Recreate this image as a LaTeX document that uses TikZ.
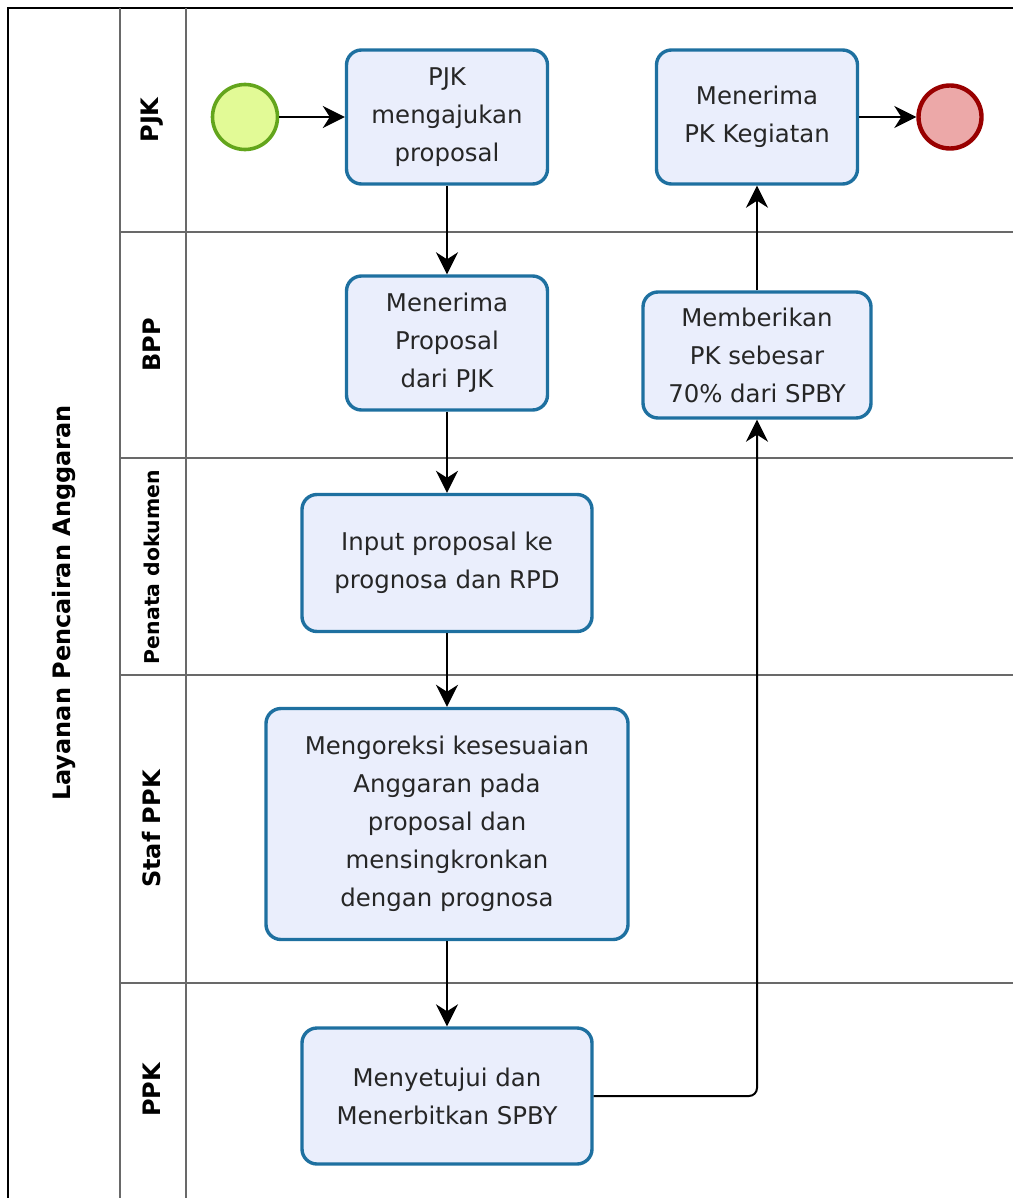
\documentclass[tikz,border=0pt]{standalone}
\usepackage{fontspec}
\setmainfont{DejaVu Sans}
\usepackage{tikz}
\usetikzlibrary{positioning,arrows.meta}

\definecolor{taskfill}{RGB}{234,238,252}
\definecolor{taskline}{RGB}{30,112,160}
\definecolor{startfill}{RGB}{226,250,150}
\definecolor{startline}{RGB}{99,165,28}
\definecolor{endfill}{RGB}{236,168,168}
\definecolor{endline}{RGB}{153,0,0}
\definecolor{laneline}{RGB}{105,105,105}

\begin{document}
\begin{tikzpicture}[
  x=0.5pt, y=-0.5pt,
  task/.style={rectangle, draw=taskline, line width=1.7pt, fill=taskfill, rounded corners=7.5pt, align=center, text=black!85, font=\fontsize{12.2}{19}\selectfont, inner sep=0pt},
  startev/.style={circle, draw=startline, line width=1.8pt, fill=startfill, minimum size=32.5pt, inner sep=0pt},
  endev/.style={circle, draw=endline, line width=2.2pt, fill=endfill, minimum size=31.5pt, inner sep=0pt},
  lanelbl/.style={rotate=90, font=\bfseries\fontsize{12}{14}\selectfont},
  lane/.style={draw=laneline, line width=1pt},
  flow/.style={-{Stealth[length=11pt,width=11pt,inset=3.5pt]}, line width=1pt}
]
\useasboundingbox (0,0) rectangle (1013,1198);

% pool and lanes
\draw[line width=1pt] (8,1198) -- (8,8) -- (1013,8);
\draw[lane] (120,8) -- (120,1198);
\draw[lane] (186,8) -- (186,1198);
\foreach \ly in {232,458,675,983}
  \draw[lane] (120,\ly) -- (1013,\ly);

\node[lanelbl] (pool) at (64,603) {Layanan Pencairan Anggaran};
\node[lanelbl] (lpjk) at (152,120) {PJK};
\node[lanelbl] (lbpp) at (152,345) {BPP};
\node[lanelbl, font=\bfseries\fontsize{10.2}{12}\selectfont] (lpenata) at (152,567) {Penata dokumen};
\node[lanelbl] (lstaf) at (152,829) {Staf PPK};
\node[lanelbl] (lppk) at (152,1090) {PPK};

% events and tasks
\node[startev] (start) at (245,117) {};
\node[task, minimum width=100.5pt, minimum height=67pt] (ajukan) at (447,117) {PJK\\mengajukan\\proposal};
\node[task, minimum width=100.5pt, minimum height=67pt] (terimapk) at (757,117) {Menerima\\PK Kegiatan};
\node[endev] (finish) at (950,117) {};

\node[task, minimum width=100.5pt, minimum height=67pt] (terimaprop) at (447,343) {Menerima\\Proposal\\dari PJK};
\node[task, minimum width=114pt, minimum height=63pt] (beri) at (757,355) {Memberikan\\PK sebesar\\70\% dari SPBY};

\node[task, minimum width=145pt, minimum height=68.5pt] (input) at (447,563) {Input proposal ke\\prognosa dan RPD};

\node[task, minimum width=181pt, minimum height=115.5pt] (koreksi) at (447,824) {Mengoreksi kesesuaian\\Anggaran pada\\proposal dan\\mensingkronkan\\dengan prognosa};

\node[task, minimum width=145pt, minimum height=68pt] (setuju) at (447,1096) {Menyetujui dan\\Menerbitkan SPBY};

% flows
\draw[flow] (start) -- (ajukan);
\draw[flow] (ajukan) -- (terimaprop);
\draw[flow] (terimaprop) -- (input);
\draw[flow] (input) -- (koreksi);
\draw[flow] (koreksi) -- (setuju);
\draw[flow, rounded corners=4pt] (setuju.east) -| (beri.south);
\draw[flow] (beri) -- (terimapk);
\draw[flow] (terimapk) -- (finish);

\end{tikzpicture}
\end{document}
